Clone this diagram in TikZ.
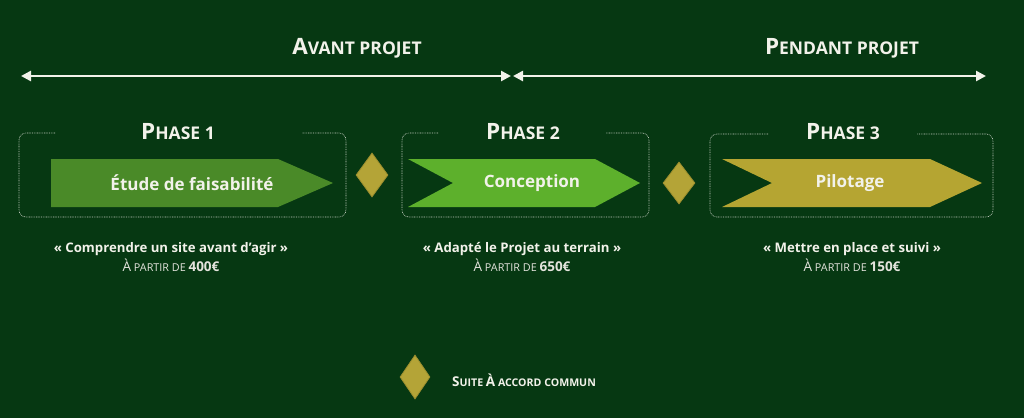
\documentclass[tikz,border=0pt]{standalone}
\usepackage{fontspec}
\setmainfont{Open Sans}
\usetikzlibrary{arrows.meta,shapes.geometric}
\definecolor{bg}{HTML}{063812}
\definecolor{pone}{HTML}{4A8A28}
\definecolor{ptwo}{HTML}{5DB02C}
\definecolor{pthree}{HTML}{B5A532}
\definecolor{dia}{HTML}{B4A437}
\definecolor{diab}{HTML}{9C8E2E}
\definecolor{txt}{HTML}{F2F2EA}
\definecolor{dotc}{HTML}{C8D0C4}
\newcommand{\bigsc}[2]{{\fontsize{22.5}{22.5}\selectfont #1}{\fontsize{17.5}{17.5}\selectfont #2}}
\newcommand{\pricesc}[1]{{\fontsize{13.5}{13.5}\selectfont\mdseries À}{\fontsize{10.8}{10.8}\selectfont\mdseries\ PARTIR DE }{\fontsize{13.5}{13.5}\selectfont\bfseries #1}}
\tikzset{
  toptitle/.style={text=txt,font=\bfseries,inner sep=0pt},
  bigarrow/.style={draw=txt,line width=2.6pt,{Triangle[width=10pt,length=10pt]}-{Triangle[width=10pt,length=10pt]}},
  phasebox/.style={draw=dotc,line width=0.6pt,dash pattern=on 0.8pt off 0.9pt,rounded corners=7pt},
  phasetitle/.style={text=txt,font=\bfseries,inner sep=0pt},
  arrowtext/.style={text=txt,font=\bfseries\fontsize{17}{17}\selectfont,inner sep=0pt},
  quote/.style={text=txt,font=\bfseries\fontsize{13.2}{13.2}\selectfont,inner sep=0pt},
  price/.style={text=txt!88!gray,inner sep=0pt},
  agree/.style={diamond,fill=dia,draw=diab,line width=0.8pt,minimum width=#1,inner sep=0pt,aspect=0.7},
}
\begin{document}
\begin{tikzpicture}[x=1pt,y=-1pt]
\fill[bg] (0,0) rectangle (1024,418);
\useasboundingbox (0,0) rectangle (1024,418);

% top titles and arrows
\node[toptitle] (avant) at (357,48) {\bigsc{A}{VANT PROJET}};
\node[toptitle] (pendant) at (842,48) {\bigsc{P}{ENDANT PROJET}};
\coordinate (a1l) at (21,76);
\coordinate (a1r) at (511,76);
\coordinate (a2l) at (513,76);
\coordinate (a2r) at (986,76);
\draw[bigarrow] (a1l) -- (a1r);
\draw[bigarrow] (a2l) -- (a2r);

% phase boxes
\draw[phasebox] (55,133) -- (19,133) -- (19,217) -- (346,217) -- (346,133) -- (302,133);
\draw[phasebox] (438,133) -- (402,133) -- (402,217) -- (649,217) -- (649,133) -- (606,133);
\draw[phasebox] (768,134) -- (710,134) -- (710,217) -- (993,217) -- (993,134) -- (917,134);

\node[phasetitle] (t1) at (178,132) {\bigsc{P}{HASE 1}};
\node[phasetitle] (t2) at (523,132) {\bigsc{P}{HASE 2}};
\node[phasetitle] (t3) at (843,132) {\bigsc{P}{HASE 3}};

% arrow shapes
\fill[pone] (51,159) -- (278,159) -- (333,183) -- (278,207) -- (51,207) -- cycle;
\fill[ptwo] (408,159) -- (595,159) -- (640,183) -- (595,207) -- (408,207) -- (453,183) -- cycle;
\fill[pthree] (722,159) -- (930,159) -- (982,183) -- (930,207) -- (722,207) -- (772,183) -- cycle;
\node[arrowtext] (s1) at (192,183) {Étude de faisabilité};
\node[arrowtext] (s2) at (532,183) {Conception};
\node[arrowtext] (s3) at (850,183) {Pilotage};

% diamonds
\node[agree=32pt,minimum height=44pt] (d1) at (372,175) {};
\node[agree=32pt,minimum height=42pt] (d2) at (679,183) {};

% captions
\node[quote] (q1) at (171,249) {« Comprendre un site avant d’agir »};
\node[price] (p1) at (171,265) {\pricesc{400€}};
\node[quote] (q2) at (522,249) {« Adapté le Projet au terrain »};
\node[price] (p2) at (522,265) {\pricesc{650€}};
\node[quote] (q3) at (852,249) {« Mettre en place et suivi »};
\node[price] (p3) at (852,265) {\pricesc{150€}};

% legend
\node[agree=30pt,minimum height=44pt] (dl) at (415,377) {};
\node[text=txt,font=\bfseries,inner sep=0pt,anchor=west] (leg) at (452,380) {{\fontsize{13.5}{13.5}\selectfont S}{\fontsize{10.6}{10.6}\selectfont UITE }{\fontsize{13.5}{13.5}\selectfont À}{\fontsize{10.6}{10.6}\selectfont\ ACCORD COMMUN}};
\end{tikzpicture}
\end{document}
